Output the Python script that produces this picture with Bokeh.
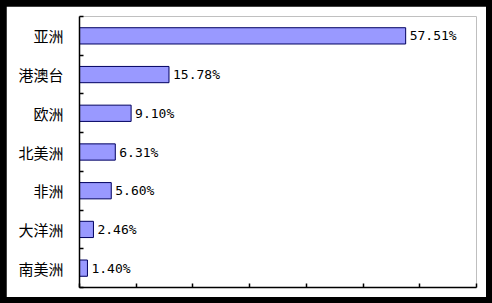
from bokeh.plotting import figure
from bokeh.models import ColumnDataSource, Range1d, FixedTicker
from bokeh.layouts import column
from bokeh.embed import file_html
from bokeh.resources import INLINE
from bokeh.core.properties import value

regions = ["亚洲", "港澳台", "欧洲", "北美洲", "非洲", "大洋洲", "南美洲"]
shares = [57.51, 15.78, 9.10, 6.31, 5.60, 2.46, 1.40]
x_ticks = [0, 10, 20, 30, 40, 50, 60, 70]

n = len(regions)
pos = [i + 0.5 for i in range(n)]
labels = [f"{v:.2f}%" for v in shares]
src = ColumnDataSource(dict(y=pos, v=shares, lab=labels, name=regions))

p = figure(width=480, height=291, output_backend="svg", toolbar_location=None,
           x_range=Range1d(0, 70), y_range=Range1d(n, 0),
           min_border_left=73, min_border_right=10, min_border_top=10, min_border_bottom=10,
           background_fill_color="white", border_fill_color="white",
           outline_line_color=None)
p.grid.visible = False

p.hbar(y="y", right="v", left=0, height=0.42, source=src,
       fill_color="#9999FF", line_color="#000060", line_width=1)
p.text(x="v", y="y", text="lab", source=src, x_offset=4,
       text_baseline="middle", text_align="left",
       text_font=value("DejaVu Sans Mono"), text_font_size="13px", text_color="black")

xa = p.xaxis[0]
xa.ticker = FixedTicker(ticks=x_ticks, minor_ticks=[])
xa.major_label_overrides = {t: "" for t in x_ticks}
xa.major_label_text_font_size = "1px"
xa.major_label_standoff = 0
xa.major_tick_in = 4
xa.major_tick_out = 0
xa.minor_tick_in = 0
xa.minor_tick_out = 0
xa.axis_line_width = 1.5
xa.major_tick_line_width = 1.5
xa.axis_line_color = "black"
xa.major_tick_line_color = "black"

ya = p.yaxis[0]
ya.ticker = FixedTicker(ticks=pos, minor_ticks=list(range(n + 1)))
ya.major_label_overrides = {pos[i]: regions[i] for i in range(n)}
ya.major_label_text_font = "Noto Sans CJK SC"
ya.major_label_text_font_size = "15px"
ya.major_label_text_color = "black"
ya.major_label_standoff = 16
ya.major_tick_in = 0
ya.major_tick_out = 0
ya.minor_tick_in = 4
ya.minor_tick_out = 0
ya.minor_tick_line_color = "black"
ya.minor_tick_line_width = 1.5
ya.axis_line_width = 1.5
ya.axis_line_color = "black"

layout = column(p, styles={"background-color": "black", "padding": "6px"})

open("out.html", "w").write(file_html(layout, INLINE))
